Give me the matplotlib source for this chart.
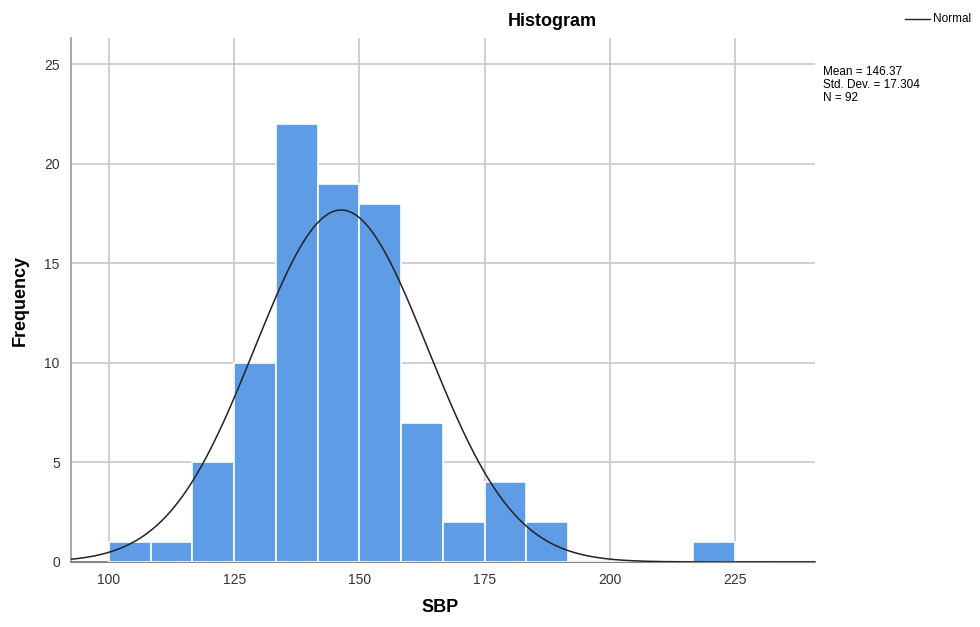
import matplotlib
matplotlib.use('Agg')
import matplotlib.pyplot as plt
import numpy as np

plt.rcParams['font.family'] = ['Liberation Sans', 'DejaVu Sans']

# histogram bins (width 25/3) and counts
bin_edges = [100 + i * 25 / 3 for i in range(16)]
counts = [1, 1, 5, 10, 22, 19, 18, 7, 2, 4, 2, 0, 0, 0, 1]
mean = 146.37
sd = 17.304
n = 92
xticks = [100, 125, 150, 175, 200, 225]
yticks = [0, 5, 10, 15, 20, 25]

fig = plt.figure(figsize=(9.8, 6.27), dpi=100)

ax = fig.add_axes([0.0724, 0.1037, 0.7592, 0.8353])

lefts = bin_edges[:-1]
width = bin_edges[1] - bin_edges[0]
ax.bar(lefts, counts, width=width, align='edge', color='#5e9de6', edgecolor='white',
       linewidth=1.2, zorder=3)

# normal curve from stated mean / sd
xs = np.linspace(92.4, 241, 400)
ys = n * width / (sd * np.sqrt(2 * np.pi)) * np.exp(-0.5 * ((xs - mean) / sd) ** 2)
ax.plot(xs, ys, color='#222222', linewidth=1.1, zorder=4)

ax.set_xlim(92.4, 241)
ax.set_ylim(0, 26.3)
ax.set_xticks(xticks)
ax.set_yticks(yticks)
ax.grid(True, color='#c8c8c8', linewidth=1.2, zorder=0)
ax.set_axisbelow(True)
ax.tick_params(length=0, labelsize=10, colors='#333333', pad=8)
for s in ['top', 'right']:
    ax.spines[s].set_visible(False)
ax.spines['left'].set_color('#999999')
ax.spines['bottom'].set_color('#888888')
ax.spines['left'].set_linewidth(1.2)
ax.spines['bottom'].set_linewidth(1.5)

fig.text(552 / 980, 1 - 22 / 627, 'Histogram', fontsize=13, fontweight='bold', ha='center', va='center')
fig.text(440 / 980, 1 - 608 / 627, 'SBP', fontsize=13, fontweight='bold', ha='center', va='center')
fig.text(20 / 980, 1 - 300 / 627, 'Frequency', fontsize=13, fontweight='bold', ha='center', va='center',
         rotation=90)

# legend and stats
fig.add_artist(plt.Line2D([905 / 980, 930 / 980], [1 - 19 / 627, 1 - 19 / 627], color='#222222', linewidth=1))
fig.text(933 / 980, 1 - 19 / 627, 'Normal', fontsize=8.5, ha='left', va='center')
fig.text(823 / 980, 1 - 66 / 627, 'Mean = %.2f\nStd. Dev. = %.3f\nN = %d' % (mean, sd, n),
         fontsize=8.5, ha='left', va='top', linespacing=1.1)

fig.savefig('out.png', dpi=100)
